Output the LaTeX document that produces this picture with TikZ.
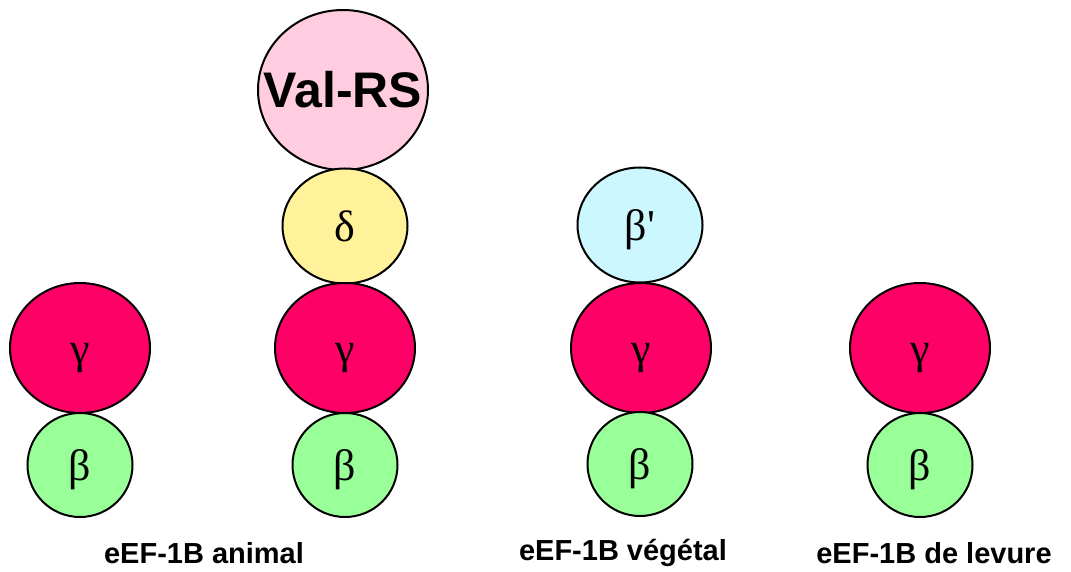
\documentclass[tikz,border=0pt]{standalone}
\usepackage{fontspec}
\setmainfont{Liberation Sans}
\newfontfamily\greekfont{Liberation Serif}
\usetikzlibrary{shapes.geometric}

\definecolor{gammared}{HTML}{FF0066}
\definecolor{betagreen}{HTML}{99FF99}
\definecolor{deltayellow}{HTML}{FFF29A}
\definecolor{primecyan}{HTML}{CCF7FF}
\definecolor{valpink}{HTML}{FFCCE0}

\tikzset{
	sub/.style={ellipse, draw=black, line width=2pt, inner sep=0pt,
		text height=40pt, text depth=9pt,
		font=\greekfont\fontsize{44}{44}\selectfont},
	subg/.style={sub, fill=gammared, minimum width=140pt, minimum height=130pt},
	subb/.style={sub, fill=betagreen, minimum width=105pt, minimum height=104pt},
	subs/.style={sub, minimum width=125pt, minimum height=115pt},
	caption/.style={font=\bfseries\fontsize{29}{29}\selectfont}
}

\begin{document}
\begin{tikzpicture}[x=1pt, y=-1pt]
	%\draw[help lines] (0,0) grid[step=50] (1071,572);
	\useasboundingbox (0,0) rectangle (1071,572);
	% animal, sans delta
	\node[subg] (g1) at (80,348) {γ};
	\node[subb] (b1) at (80,465) {β};
	% animal, avec delta et Val-RS
	\node[ellipse, draw=black, line width=2pt, inner sep=0pt, fill=valpink,
		minimum width=170pt, minimum height=160pt,
		font=\bfseries\fontsize{50}{50}\selectfont] (vrs) at (343,90) {\makebox[0pt]{Val-RS}};
	\node[subs, fill=deltayellow] (d2) at (345,226) {δ};
	\node[subg] (g2) at (345,348) {γ};
	\node[subb] (b2) at (345,465) {β};
	% vegetal
	\node[subs, fill=primecyan] (bp3) at (640,225) {β\textquotesingle};
	\node[subg] (g3) at (641,348) {γ};
	\node[subb] (b3) at (640,464) {β};
	% levure
	\node[subg] (g4) at (920,348) {γ};
	\node[subb] (b4) at (920,465) {β};
	% legendes
	\node[caption] (lanimal) at (204,553) {eEF-1B animal};
	\node[caption] (lvegetal) at (623,553) {eEF-1B végétal};
	\node[caption] (llevure) at (934,553) {eEF-1B de levure};
\end{tikzpicture}
\end{document}
